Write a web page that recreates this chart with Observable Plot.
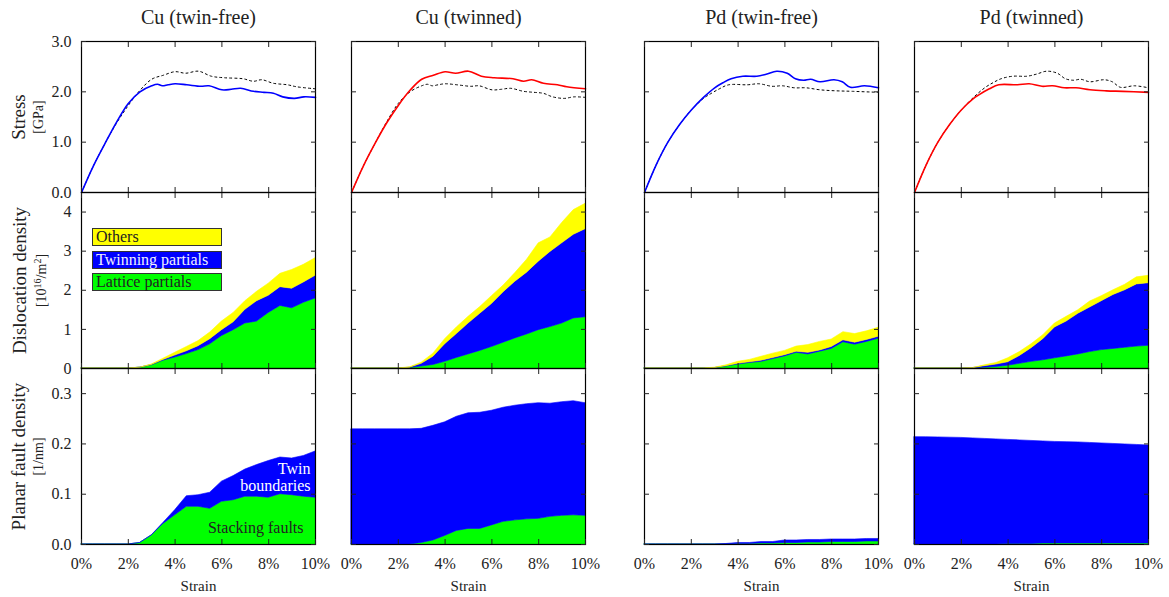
<!DOCTYPE html>
<html><head><meta charset="utf-8">
<script src="https://cdn.jsdelivr.net/npm/d3@7"></script>
<script src="https://cdn.jsdelivr.net/npm/@observablehq/plot@0.6"></script>
<style>
body{margin:0;background:#fff;}
#chart{position:relative;width:1169px;height:597px;font-family:"Liberation Serif",serif;color:#222;background:#fff;}
#chart svg{position:absolute;overflow:visible;}
.lg{position:absolute;box-sizing:border-box;border:1px solid #333;font:16px "Liberation Serif",serif;line-height:15px;padding-left:3px;white-space:nowrap;}
</style></head><body><div id="chart"></div><script>
// ---------- data ----------
const columnTitles = ["Cu (twin-free)", "Cu (twinned)", "Pd (twin-free)", "Pd (twinned)"];
const rowLabels = ["Stress", "Dislocation density", "Planar fault density"];
const rowUnits = ["[GPa]", "[10^16/m^2]", "[1/nm]"];
const strainTicks = [0, 2, 4, 6, 8, 10];
const strainTickLabels = ["0%", "2%", "4%", "6%", "8%", "10%"];
const stressTicks = [0, 1, 2, 3];
const stressTickLabels = ["0.0", "1.0", "2.0", "3.0"];
const dislocTicks = [0, 1, 2, 3, 4];
const dislocTickLabels = ["0", "1", "2", "3", "4"];
const faultTicks = [0, 0.1, 0.2, 0.3];
const faultTickLabels = ["0.0", "0.1", "0.2", "0.3"];
const dislocSeries = ["Lattice partials", "Twinning partials", "Others"];
const faultSeries = ["Stacking faults", "Twin boundaries"];

// stress-strain curves
const cuFreeStrain = [0,0.5,1,1.5,2,2.5,3,3.25,3.45,3.7,4,4.5,5.1,5.45,6,6.4,6.8,7.35,7.8,8.2,8.6,9.1,9.5,10];
const cuFreeStress = [0,0.52,0.97,1.4,1.77,2.0,2.12,2.15,2.12,2.14,2.16,2.14,2.11,2.12,2.04,2.05,2.07,2.01,1.99,1.97,1.9,1.87,1.9,1.89];
const cuTwinStrain = [0,0.5,1,1.5,2,2.5,3,3.5,4,4.45,5,5.55,6.1,6.9,7.35,7.7,8.2,8.8,9.2,10];
const cuTwinStress = [0,0.52,0.97,1.38,1.73,2.03,2.25,2.33,2.40,2.37,2.41,2.31,2.28,2.26,2.21,2.24,2.17,2.14,2.10,2.06];
const pdFreeStrain = [0,0.5,1,1.5,2,2.5,3,3.35,3.7,4.2,4.8,5.2,5.65,6.1,6.45,6.8,7.1,7.5,8.1,8.45,8.8,9.4,10];
const pdFreeStress = [0,0.55,1.0,1.35,1.64,1.88,2.08,2.18,2.26,2.31,2.31,2.35,2.41,2.37,2.26,2.23,2.25,2.2,2.24,2.2,2.09,2.12,2.08];
const pdTwinStrain = [0,0.5,1,1.5,2,2.5,2.75,3.2,3.6,4.4,4.9,5.45,5.9,6.4,6.9,7.5,8.2,8.9,10];
const pdTwinStress = [0,0.55,1.0,1.35,1.64,1.86,1.94,2.06,2.14,2.14,2.16,2.11,2.12,2.08,2.08,2.04,2.02,2.01,1.99];

// densities on a common strain grid (%)
const strainGrid = [0,0.5,1,1.5,2,2.5,3,3.5,4,4.5,5,5.5,6,6.5,7,7.5,8,8.5,9,9.5,10];
const cuFreeLattice  = [0,0,0,0,0,0.02,0.08,0.2,0.28,0.37,0.47,0.62,0.83,0.98,1.15,1.2,1.42,1.6,1.54,1.68,1.79];
const cuFreeTwinning = [0,0,0,0,0,0,0.01,0.02,0.05,0.07,0.1,0.13,0.15,0.2,0.35,0.52,0.44,0.48,0.5,0.52,0.58];
const cuFreeOthers   = [0,0,0,0,0,0,0.01,0.03,0.07,0.11,0.13,0.17,0.22,0.24,0.22,0.24,0.31,0.34,0.48,0.45,0.45];
const cuTwinLattice  = [0,0,0,0,0,0.01,0.05,0.09,0.17,0.27,0.36,0.45,0.55,0.66,0.77,0.87,0.98,1.06,1.15,1.28,1.31];
const cuTwinTwinning = [0,0,0,0,0,0.01,0.07,0.21,0.45,0.61,0.79,0.95,1.1,1.29,1.45,1.58,1.75,1.92,2.05,2.14,2.25];
const cuTwinOthers   = [0,0,0,0,0,0.01,0.03,0.08,0.13,0.17,0.17,0.17,0.2,0.17,0.22,0.33,0.47,0.37,0.52,0.63,0.65];
const pdFreeLattice  = [0,0,0,0,0,0,0.01,0.05,0.1,0.14,0.17,0.24,0.31,0.4,0.36,0.43,0.5,0.67,0.61,0.68,0.76];
const pdFreeTwinning = [0,0,0,0,0,0,0,0.01,0.02,0.02,0.03,0.03,0.03,0.03,0.04,0.03,0.05,0.05,0.05,0.05,0.05];
const pdFreeOthers   = [0,0,0,0,0,0,0.01,0.02,0.05,0.06,0.1,0.11,0.11,0.13,0.2,0.22,0.19,0.21,0.22,0.22,0.23];
const pdTwinLattice  = [0,0,0,0,0,0,0.02,0.04,0.07,0.12,0.17,0.21,0.26,0.31,0.36,0.42,0.47,0.5,0.53,0.56,0.58];
const pdTwinTwinning = [0,0,0,0,0,0.01,0.04,0.06,0.09,0.2,0.35,0.54,0.79,0.89,1.04,1.14,1.25,1.38,1.47,1.59,1.6];
const pdTwinOthers   = [0,0,0,0,0,0,0.02,0.04,0.1,0.1,0.1,0.1,0.1,0.12,0.09,0.15,0.13,0.12,0.14,0.18,0.19];

const cuFreeSF = [0,0,0,0,0,0.003,0.018,0.041,0.058,0.075,0.075,0.071,0.085,0.088,0.095,0.095,0.093,0.1,0.098,0.095,0.093];
const cuFreeTB = [0,0,0,0,0,0,0,0.002,0.01,0.021,0.023,0.032,0.04,0.048,0.054,0.063,0.073,0.073,0.073,0.081,0.092];
const cuTwinSF = [0,0,0,0,0,0,0.003,0.008,0.017,0.027,0.031,0.031,0.038,0.045,0.048,0.05,0.051,0.055,0.057,0.058,0.057];
const cuTwinTB = [0.229,0.229,0.229,0.229,0.229,0.229,0.227,0.228,0.226,0.227,0.23,0.231,0.228,0.227,0.228,0.229,0.23,0.225,0.226,0.227,0.224];
const pdFreeSF = [0,0,0,0,0,0,0,0,0.001,0.001,0.002,0.002,0.003,0.003,0.004,0.004,0.005,0.005,0.005,0.006,0.006];
const pdFreeTB = [0,0,0,0,0,0,0,0.001,0.002,0.002,0.003,0.003,0.005,0.005,0.005,0.005,0.005,0.005,0.005,0.005,0.005];
const pdTwinSF = [0,0,0,0,0,0,0,0,0.001,0.001,0.001,0.002,0.002,0.002,0.002,0.002,0.002,0.002,0.002,0.002,0.002];
const pdTwinTB = [0.2135,0.2133,0.213,0.2125,0.212,0.211,0.21,0.209,0.207,0.206,0.205,0.203,0.202,0.2015,0.201,0.2,0.199,0.198,0.197,0.196,0.195];

// ---------- build tables ----------
const zipCurve = (xs, ys) => xs.map((x, i) => ({strain: x, stress: ys[i]}));
const stressSets = [
  zipCurve(cuFreeStrain, cuFreeStress), zipCurve(cuTwinStrain, cuTwinStress),
  zipCurve(pdFreeStrain, pdFreeStress), zipCurve(pdTwinStrain, pdTwinStress)
];
const longTable = (names, arrays) => names.flatMap((s, k) => strainGrid.map((x, i) => ({strain: x, value: arrays[k][i], series: s})));
const dislocSets = [
  longTable(dislocSeries, [cuFreeLattice, cuFreeTwinning, cuFreeOthers]),
  longTable(dislocSeries, [cuTwinLattice, cuTwinTwinning, cuTwinOthers]),
  longTable(dislocSeries, [pdFreeLattice, pdFreeTwinning, pdFreeOthers]),
  longTable(dislocSeries, [pdTwinLattice, pdTwinTwinning, pdTwinOthers])
];
const faultSets = [
  longTable(faultSeries, [cuFreeSF, cuFreeTB]),
  longTable(faultSeries, [cuTwinSF, cuTwinTB]),
  longTable(faultSeries, [pdFreeSF, pdFreeTB]),
  longTable(faultSeries, [pdTwinSF, pdTwinTB])
];

// ---------- layout & style ----------
const GREEN = "#00ff00", BLUE = "#0000ff", YELLOW = "#ffff00", RED = "#ff0000";
const dislocColors = [GREEN, BLUE, YELLOW];
const faultColors = [GREEN, BLUE];
const colX = [81, 351, 644, 914];
const rowY = [41, 192, 368];
const panelW = 234;
const rowH = [151, 176, 176];
const yDomains = [[0, 3], [0, 4.5], [0, 0.35]];
const yTicks = [stressTicks, dislocTicks, faultTicks];
const yTickLabels = [stressTickLabels, dislocTickLabels, faultTickLabels];
const labelDx = [-63, -62, -63];
const unitDx = [-43, -40, -43];

const chart = document.getElementById("chart");

function panel(r, c) {
  const marks = [];
  if (r === 0) {
    marks.push(Plot.line(stressSets[c ^ 1], {x: "strain", y: "stress", stroke: "#000", strokeWidth: 1, strokeDasharray: "2,3", curve: "catmull-rom"}));
    marks.push(Plot.line(stressSets[c], {x: "strain", y: "stress", stroke: c % 2 ? RED : BLUE, strokeWidth: 1.6, curve: "catmull-rom"}));
  } else {
    const data = r === 1 ? dislocSets[c] : faultSets[c];
    marks.push(Plot.areaY(data, Plot.stackY({x: "strain", y: "value", z: "series", fill: "series", stroke: "series", strokeWidth: 0.6})));
  }
  marks.push(Plot.frame({stroke: "#000", strokeWidth: 1.2}));
  // inward ticks on all four sides
  const blank = () => "";
  marks.push(Plot.axisX(strainTicks, {anchor: "bottom", tickSize: -5, tickFormat: blank, label: null}));
  marks.push(Plot.axisX(strainTicks, {anchor: "top", tickSize: -5, tickFormat: blank, label: null}));
  marks.push(Plot.axisY(yTicks[r], {anchor: "left", tickSize: -5, tickFormat: blank, label: null}));
  marks.push(Plot.axisY(yTicks[r], {anchor: "right", tickSize: -5, tickFormat: blank, label: null}));
  if (c === 0) {
    const labs = new Map(yTicks[r].map((t, i) => [t, yTickLabels[r][i]]));
    marks.push(Plot.axisY(yTicks[r], {anchor: "left", tickSize: 0, tickPadding: 10, tickFormat: d => labs.get(d), fontSize: 16, label: null}));
    marks.push(Plot.text([rowLabels[r]], {frameAnchor: "left", textAnchor: "middle", lineAnchor: "middle", dx: labelDx[r], rotate: -90, fontSize: 19}));
    marks.push(Plot.text([rowUnits[r]], {frameAnchor: "left", textAnchor: "middle", lineAnchor: "middle", dx: unitDx[r], rotate: -90, fontSize: 14}));
  }
  if (r === 2) {
    const labs = new Map(strainTicks.map((t, i) => [t, strainTickLabels[i]]));
    marks.push(Plot.axisX(strainTicks, {anchor: "bottom", tickSize: 0, tickPadding: 13, tickFormat: d => labs.get(d), fontSize: 16, label: null}));
    marks.push(Plot.text(["Strain"], {frameAnchor: "bottom", lineAnchor: "middle", dy: 42, fontSize: 15}));
  }
  if (r === 0) {
    marks.push(Plot.text([columnTitles[c]], {frameAnchor: "top", lineAnchor: "middle", dy: -24, fontSize: 20}));
  }
  if (r === 2 && c === 0) {
    marks.push(Plot.text([faultSeries[1].replace(" ", "\n")], {frameAnchor: "top-right", textAnchor: "end", lineAnchor: "middle", dx: -5, dy: 109, lineHeight: 1.05, fontSize: 16, fill: "#fff"}));
    marks.push(Plot.text([faultSeries[0]], {frameAnchor: "top-right", textAnchor: "end", lineAnchor: "middle", dx: -12, dy: 159, fontSize: 16, fill: "#222"}));
  }
  const svg = Plot.plot({
    width: panelW, height: rowH[r], margin: 0,
    style: {background: "transparent", overflow: "visible", fontFamily: "'Liberation Serif', serif", color: "#222"},
    x: {domain: [0, 10], label: null},
    y: {domain: yDomains[r], label: null},
    color: r === 1 ? {domain: dislocSeries, range: dislocColors} : r === 2 ? {domain: faultSeries, range: faultColors} : undefined,
    marks
  });
  svg.style.left = colX[c] + "px";
  svg.style.top = rowY[r] + "px";
  chart.appendChild(svg);
  // superscripts for the density unit
  if (c === 0 && r === 1) {
    d3.select(svg).selectAll("text").filter(function () { return this.textContent === rowUnits[1]; }).each(function () {
      const t = d3.select(this).text(null);
      const parts = rowUnits[1].split(/\^(\d+)/);
      parts.forEach((p, i) => {
        if (!p) return;
        if (i % 2) t.append("tspan").attr("dy", "-5px").attr("font-size", "10px").text(p);
        else t.append("tspan").attr("dy", i > 0 ? "5px" : null).text(p);
      });
    });
  }
}

for (let r = 0; r < 3; r++) for (let c = 0; c < 4; c++) panel(r, c);

// legend for dislocation types (top to bottom: reverse of stacking order)
const legendLeft = 92, legendTop = 228, legendW = 130, legendH = 18, legendStep = 22.5;
dislocSeries.slice().reverse().forEach((s, i) => {
  const d = document.createElement("div");
  d.className = "lg";
  const k = dislocSeries.indexOf(s);
  d.style.left = legendLeft + "px";
  d.style.top = (legendTop + i * legendStep) + "px";
  d.style.width = legendW + "px";
  d.style.height = legendH + "px";
  d.style.background = dislocColors[k];
  d.style.color = s === "Twinning partials" ? "#f0f0ff" : "#222";
  d.textContent = s;
  chart.appendChild(d);
});
</script></body></html>
